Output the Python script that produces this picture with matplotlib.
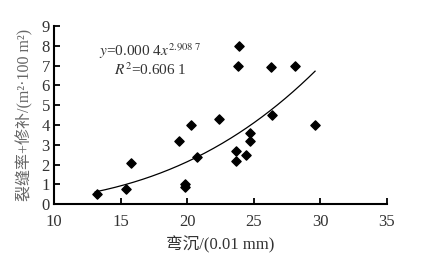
import numpy as np
import matplotlib
matplotlib.use("Agg")
import matplotlib.pyplot as plt

plt.rcParams['font.family'] = ['Liberation Serif', 'Noto Sans CJK SC']
plt.rcParams['mathtext.fontset'] = 'stix'

# 弯沉 (0.01 mm) vs 裂缝率+修补
deflection = [13.2, 15.4, 15.8, 19.4, 19.8, 19.8, 20.3, 20.7, 22.4, 23.9,
              23.8, 23.7, 23.7, 24.4, 24.7, 24.7, 26.3, 26.4, 28.1, 29.6]
crack_rate = [0.5, 0.77, 2.07, 3.2, 1.0, 0.89, 4.0, 2.4, 4.3, 8.0,
              7.0, 2.7, 2.17, 2.49, 3.62, 3.2, 6.92, 4.5, 7.0, 4.0]

# power trend line y = a * x^b
fit_a = 0.000353
fit_b = 2.9087
fit_range = [13.1, 29.6]

xticks = [10, 15, 20, 25, 30, 35]
yticks = [0, 1, 2, 3, 4, 5, 6, 7, 8, 9]

fig = plt.figure(figsize=(4.3, 2.62), dpi=100)
ax = fig.add_axes([0.1256, 0.2202, 0.7744, 0.6806])

txt_color = '#333333'

xf = np.linspace(fit_range[0], fit_range[1], 200)
ax.plot(xf, fit_a * xf ** fit_b, color='black', lw=0.9)
ax.scatter(deflection, crack_rate, marker='D', s=22, color='black', zorder=3)

ax.set_xlim(10, 35)
ax.set_ylim(0, 9)
ax.set_xticks(xticks)
ax.set_yticks(yticks)
ax.tick_params(direction='in', length=4, width=1.3, labelsize=12, colors='black',
               labelcolor=txt_color)
ax.tick_params(axis='x', pad=7)
ax.tick_params(axis='y', pad=3)
ax.spines['right'].set_visible(False)
ax.spines['top'].set_visible(False)
ax.spines['left'].set_linewidth(1.5)
ax.spines['bottom'].set_linewidth(1.5)

ax.set_xlabel('弯沉/(0.01 mm)', fontsize=12, color=txt_color, labelpad=4)
ax.set_ylabel('裂缝率+修补/(m²·100 m²)', fontsize=11.5, color='#666666', labelpad=6)

ax.text(17.2, 7.72, r'$\mathit{y}$=0.000 4$\mathit{x}^{2.908\ 7}$', fontsize=11,
        ha='center', va='center', color=txt_color)
ax.text(17.2, 6.8, r'$\mathit{R}^{2}$=0.606 1', fontsize=11,
        ha='center', va='center', color=txt_color)

plt.savefig('out.png', dpi=100)
